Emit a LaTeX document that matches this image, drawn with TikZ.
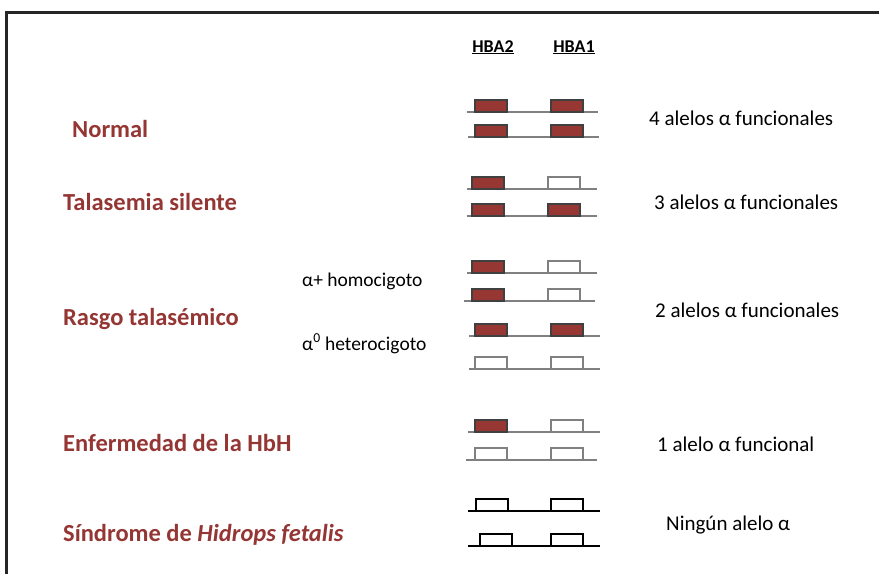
\documentclass[tikz,border=0pt]{standalone}
\usepackage{fontspec}
\setmainfont{Carlito}
\usepackage{xcolor}
\usepackage{tikz}
\usetikzlibrary{positioning}

\definecolor{titlered}{RGB}{148,54,52}
\definecolor{genred}{RGB}{150,55,52}
\definecolor{trackgray}{RGB}{128,128,128}

\begin{document}
\begin{tikzpicture}[
      x=1pt, y=-1pt,
      title/.style={anchor=base west,inner sep=0pt,font=\fontsize{24.5}{28}\selectfont\bfseries,text=titlered},
      result/.style={anchor=base west,inner sep=0pt,font=\fontsize{21}{24}\selectfont},
      sublab/.style={anchor=base west,inner sep=0pt,font=\fontsize{19.5}{23}\selectfont},
      gene/.style={anchor=base,inner sep=0pt,font=\fontsize{18}{21}\selectfont\bfseries},
      gray/.style={draw=trackgray,line width=2.2pt},
      dark/.style={draw=black,line width=2.2pt},
      genon/.style={fill=genred,draw=black!75,line width=1.6pt},
      genoff/.style={draw=trackgray,line width=2pt},
      genoffk/.style={draw=black,line width=2pt},
    ]
    \useasboundingbox (0,0) rectangle (879,574);

    % Frame
    \draw[line width=3pt,black!85] (879,12) -- (6.5,12) -- (6.5,574);

    % Column heads
    \node[gene] (hba2) at (493,52) {\underline{HBA2}};
    \node[gene] (hba1) at (574,52) {\underline{HBA1}};

    % Conditions
    \node[title] (normal) at (72,137) {Normal};
    \node[title] (silente) at (63,210) {Talasemia silente};
    \node[title] (rasgo) at (63,325) {Rasgo talasémico};
    \node[title] (hbh) at (63,451) {Enfermedad de la HbH};
    \node[title] (hidrops) at (63,541) {Síndrome de \textit{Hidrops fetalis}};

    \node[sublab] (homo) at (302,286) {α+ homocigoto};
    \node[sublab] (hetero) at (302,350) {α\textsuperscript{0} heterocigoto};

    % Alleles
    \node[result] (four) at (649,125) {4 alelos α funcionales};
    \node[result] (three) at (654,209) {3 alelos α funcionales};
    \node[result] (two) at (655,317) {2 alelos α funcionales};
    \node[result] (one) at (657,451) {1 alelo α funcional};
    \node[result] (none) at (666,530) {Ningún alelo α};

    % Chromosome tracks: y / start / end / box 1 / box 2 / styles
    \foreach \y/\xa/\xb/\ba/\bb/\sa/\sb/\lc in {
        112/467/598/475/551/genon/genon/gray,
        137/468/599/475/551/genon/genon/gray,
        189/467/597/472/548/genon/genoff/gray,
        216/467/597/472/548/genon/genon/gray,
        273/467/597/472/548/genon/genoff/gray,
        301/464/595/472/548/genon/genoff/gray,
        336/469/600/475/551/genon/genon/gray,
        369/469/600/475/551/genoff/genoff/gray,
        432/468/600/475/551/genon/genoff/gray,
        460/466/597/475/551/genoff/genoff/gray,
        511/468/600/476/551/genoffk/genoffk/dark,
        546/468/600/480/551/genoffk/genoffk/dark}{
      \draw[\lc] (\xa,\y) -- (\xb,\y);
      \draw[\sa] (\ba,\y) rectangle ++(32,-12);
      \draw[\sb] (\bb,\y) rectangle ++(32,-12);
    }
  \end{tikzpicture}
\end{document}
